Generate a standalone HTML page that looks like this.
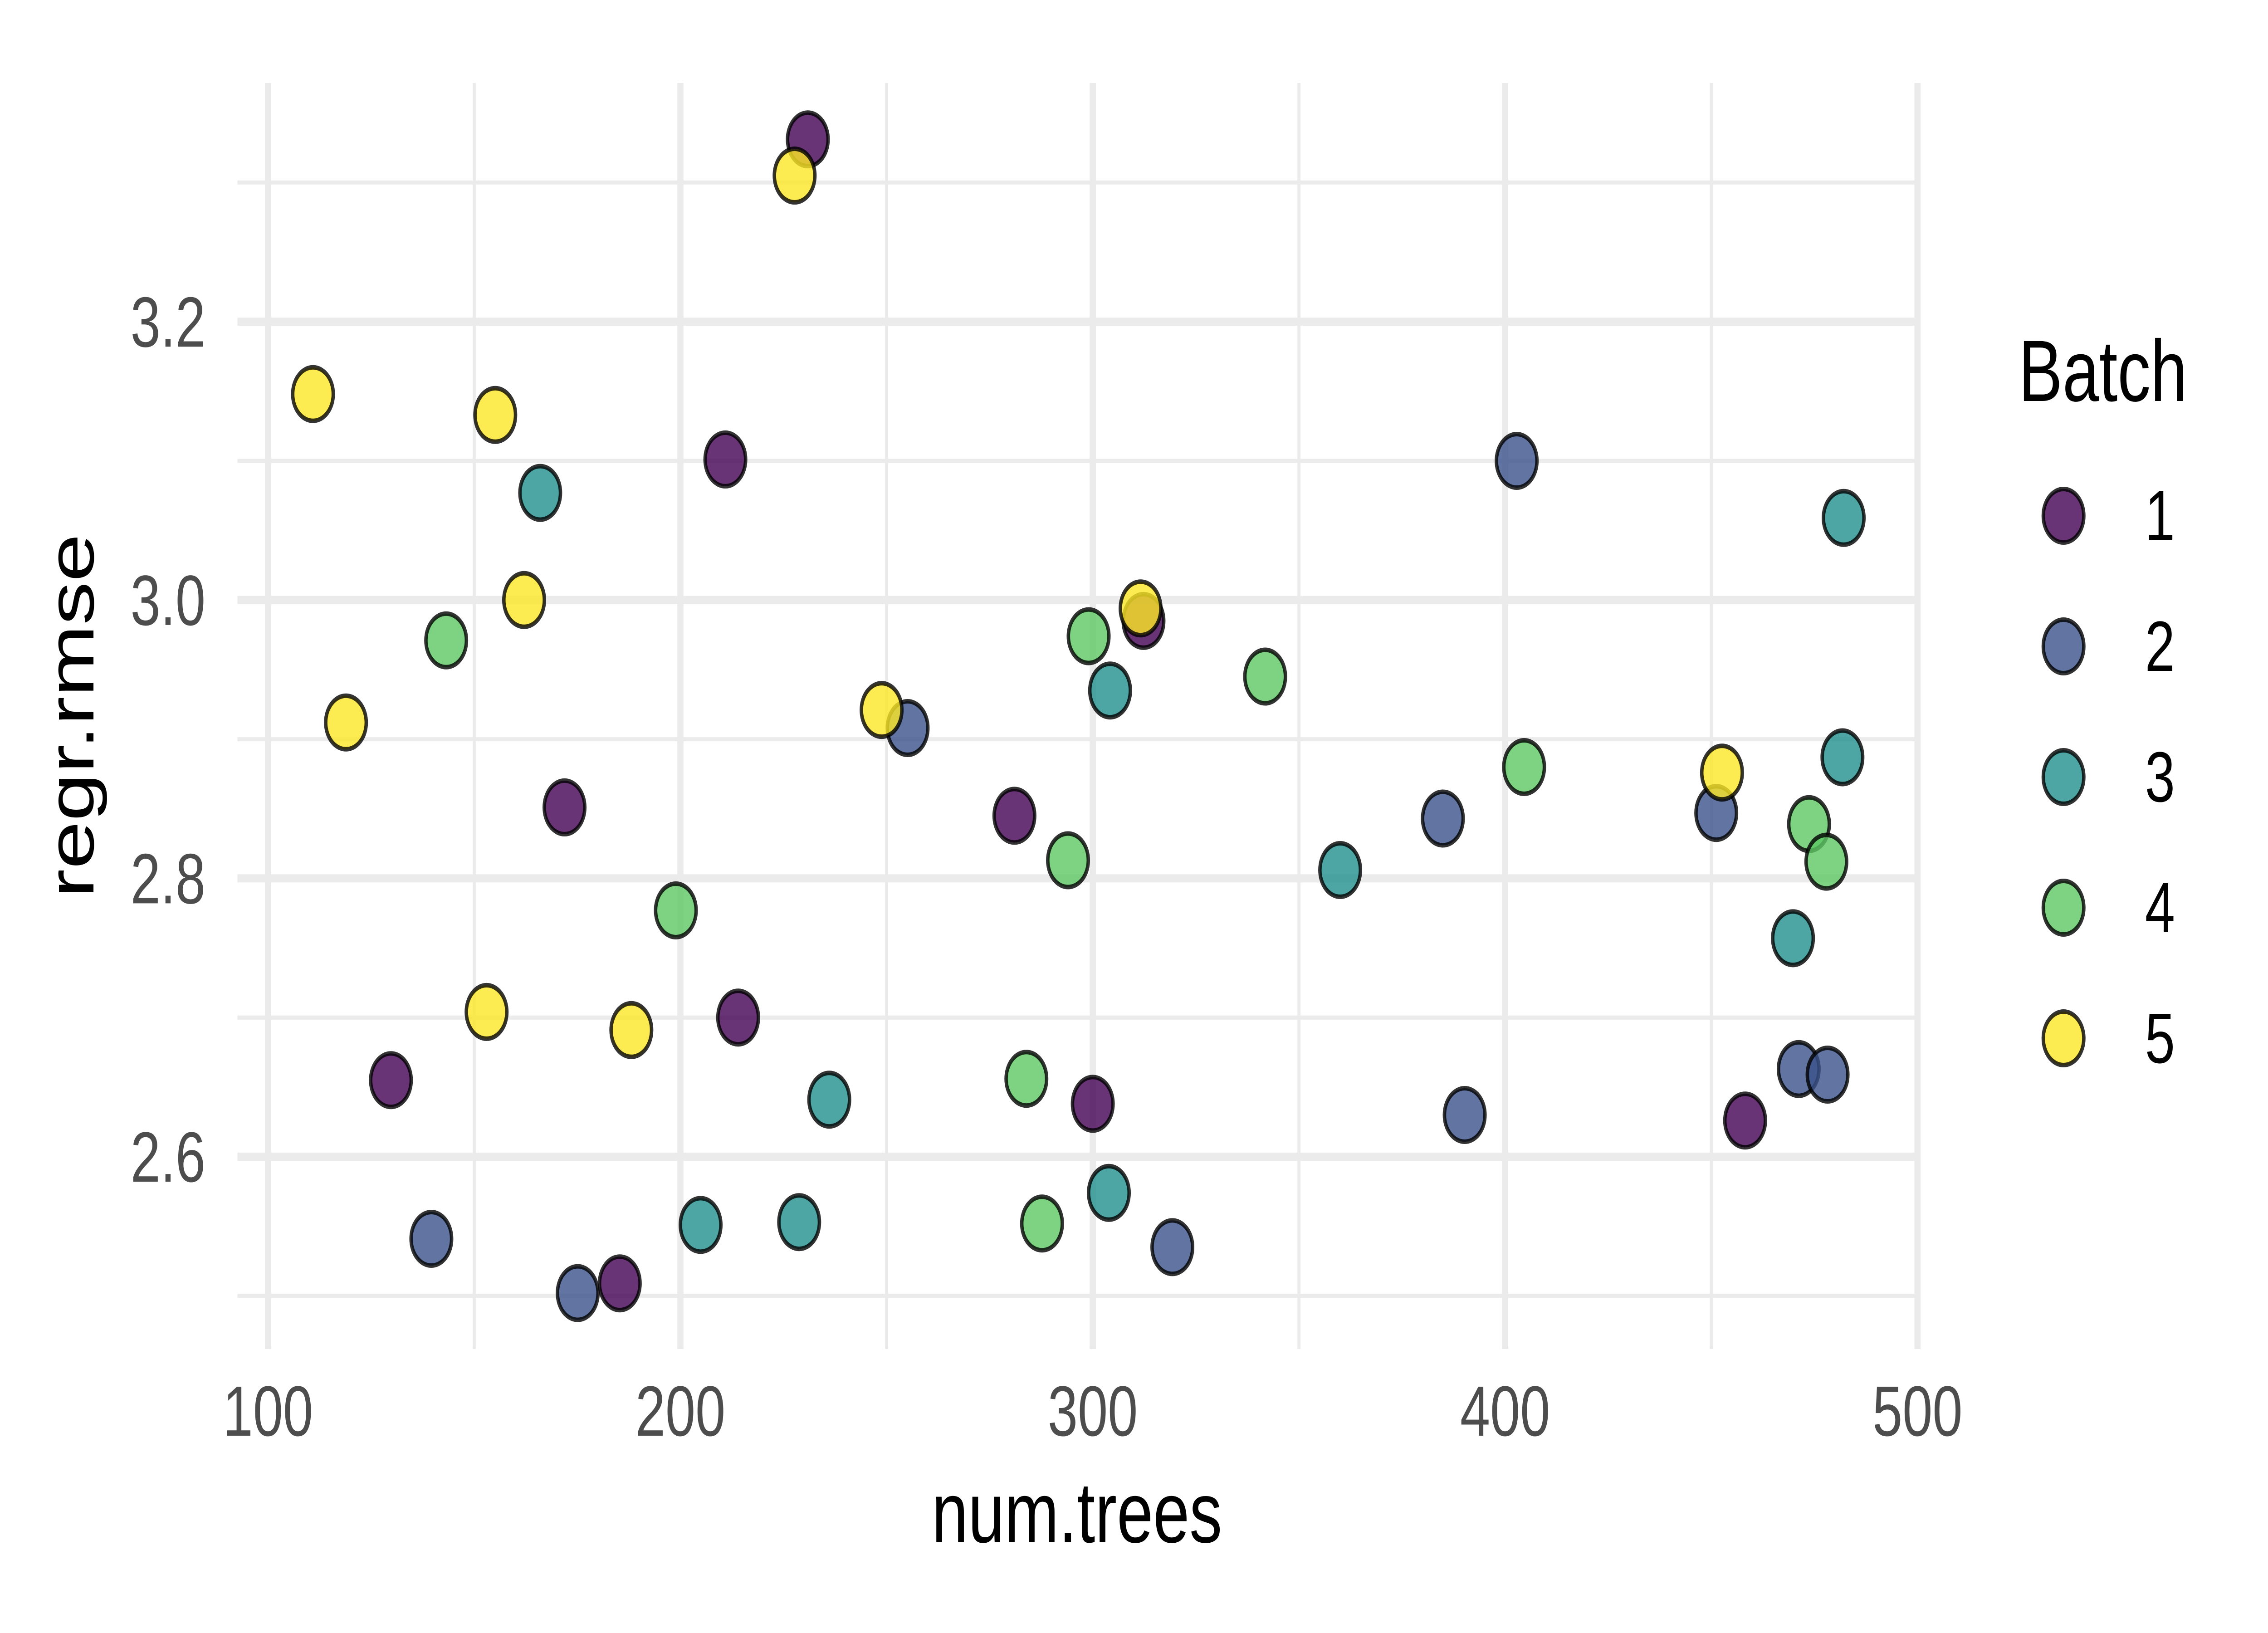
<!DOCTYPE html>
<html><head><meta charset="utf-8"><style>html,body{margin:0;padding:0;background:#fff;width:100%;height:100%;overflow:hidden}svg{display:block;width:100vw;height:100vh}</style></head>
<body>
<svg id="chart" viewBox="0 0 6600 3600" preserveAspectRatio="none" xmlns="http://www.w3.org/2000/svg" font-family="'Liberation Sans', sans-serif">
<rect width="6600" height="3600" fill="#fff"/>
<g id="grid"></g>
<g id="points"></g>
<g id="axes"></g>
<text x="3134" y="3400" font-size="190" text-anchor="middle" fill="#000">num.trees</text>
<text x="0" y="0" font-size="190" text-anchor="middle" fill="#000" transform="translate(272,1578) rotate(-90)">regr.rmse</text>
<text x="5874" y="884" font-size="192" fill="#000">Batch</text>
<g id="legend"></g>
</svg>
<script>
const batches = ["1","2","3","4","5"];
const colors = ["#440154","#3b528b","#21908c","#5dc863","#fde725"];
const xTicks = [100,200,300,400,500];
const xMinor = [150,250,350,450];
const yTicks = [2.6,2.8,3.0,3.2];
const yTickLabels = ["2.6","2.8","3.0","3.2"];
const yMinor = [2.5,2.7,2.9,3.1,3.3];
const b1x = [230.9,210.9,312.3,171.9,281,214,129.8,300,458.2,185.3];
const b1y = [3.331,3.101,2.985,2.851,2.845,2.700,2.655,2.638,2.626,2.509];
const b2x = [402.8,255.1,384.9,451.2,390.2,471.2,478.2,139.6,319.3,175.1];
const b2y = [3.100,2.908,2.843,2.847,2.630,2.663,2.659,2.541,2.535,2.502];
const b3x = [166,482.1,304.2,481.8,360,469.8,236.1,204.9,228.8,303.9];
const b3y = [3.077,3.059,2.935,2.887,2.806,2.757,2.641,2.551,2.553,2.574];
const b4x = [143.2,299,341.8,404.6,473.7,477.9,294,198.9,283.9,287.7];
const b4y = [2.971,2.974,2.945,2.880,2.839,2.812,2.813,2.777,2.656,2.552];
const b5x = [227.7,110.9,155.1,162.1,118.9,248.8,311.6,452.6,153,188.1];
const b5y = [3.305,3.148,3.133,3.000,2.912,2.921,2.994,2.876,2.704,2.691];
const seriesX = [b1x,b2x,b3x,b4x,b5x];
const seriesY = [b1y,b2y,b3y,b4y,b5y];

const NS = "http://www.w3.org/2000/svg";
const PL = 691, PR = 5587, PT = 183, PB = 2974;
function sx(v){ return 780 + (v-100)*12; }
function sy(v){ return 2550 - (v-2.6)*3068; }
function mk(tag, attrs, parent){ const e=document.createElementNS(NS,tag); for(const k in attrs) e.setAttribute(k,attrs[k]); parent.appendChild(e); return e; }
const grid=document.getElementById('grid'), pts=document.getElementById('points'), axes=document.getElementById('axes'), leg=document.getElementById('legend');
yMinor.forEach(v=>{ const l=mk('line',{x1:PL,x2:PR,y1:sy(v),y2:sy(v),stroke:'#ebebeb','stroke-width':9},grid);

 });
xMinor.forEach(v=>{ const l=mk('line',{x1:sx(v),x2:sx(v),y1:PT,y2:PB,stroke:'#ebebeb','stroke-width':9},grid);

 });
yTicks.forEach((v,i)=>{ const l=mk('line',{x1:PL,x2:PR,y1:sy(v),y2:sy(v),stroke:'#ebebeb','stroke-width':18},grid);


const t=mk('text',{x:598,y:sy(v)+55,'font-size':157,'text-anchor':'end',fill:'#4d4d4d'},axes); t.textContent=yTickLabels[i];

 });
xTicks.forEach(v=>{ const l=mk('line',{x1:sx(v),x2:sx(v),y1:PT,y2:PB,stroke:'#ebebeb','stroke-width':18},grid);


const t=mk('text',{x:sx(v),y:3165,'font-size':157,'text-anchor':'middle',fill:'#4d4d4d'},axes); t.textContent=String(v);

 });
seriesX.forEach((xs,s)=>{ xs.forEach((xv,i)=>{ const c=mk('circle',{cx:sx(xv),cy:sy(seriesY[s][i]),r:59,fill:colors[s],'fill-opacity':0.8,stroke:'#000','stroke-opacity':0.8,'stroke-width':10},pts);

 }); });
batches.forEach((b,i)=>{ const y=1137+i*288;
const c=mk('circle',{cx:6005,cy:y,r:59,fill:colors[i],'fill-opacity':0.8,stroke:'#000','stroke-opacity':0.8,'stroke-width':10},leg);


const t=mk('text',{x:6242,y:y+54,'font-size':157,fill:'#000'},leg); t.textContent=b;

 });
</script>
</body></html>
